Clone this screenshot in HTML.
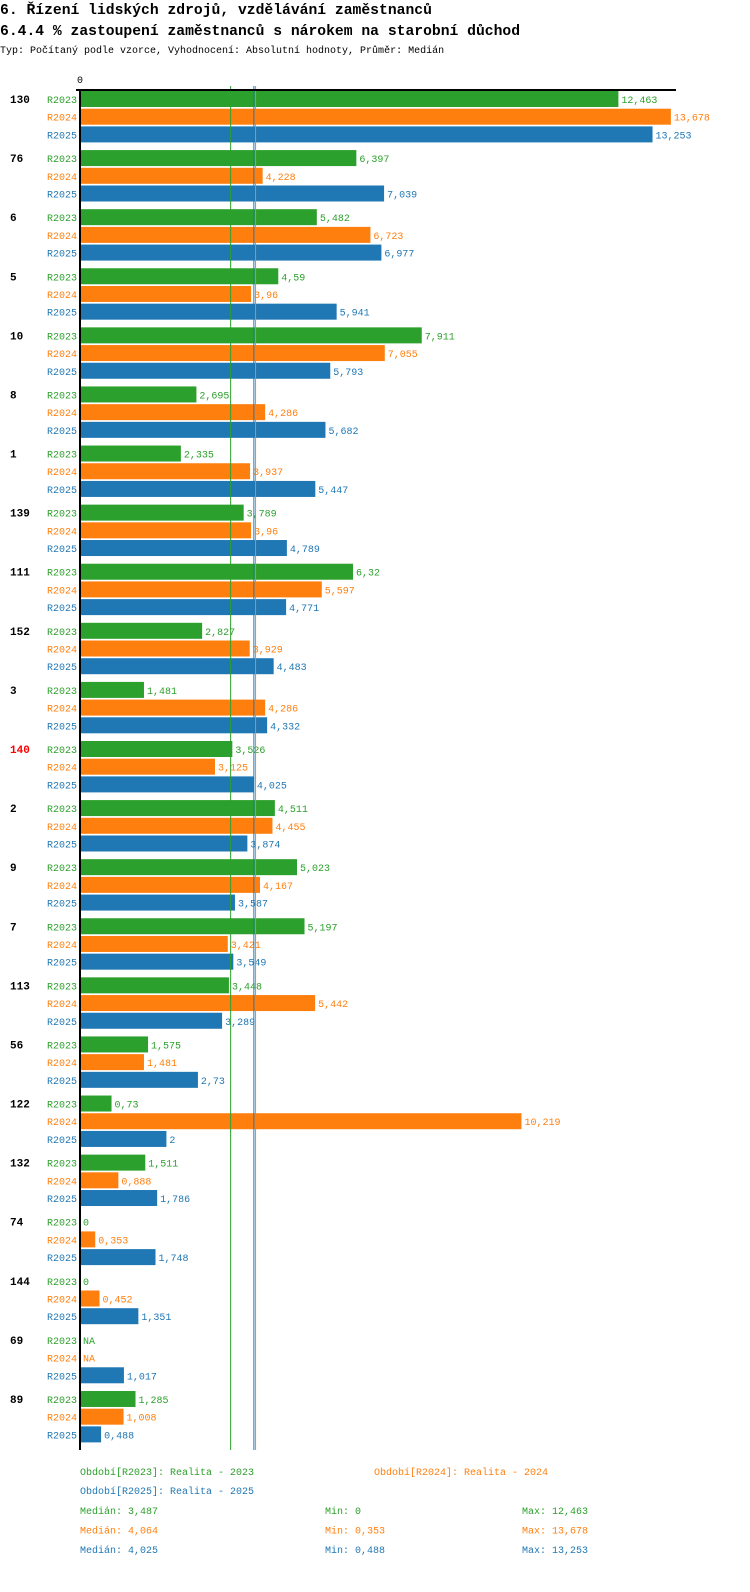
<!DOCTYPE html>
<html><head><meta charset="utf-8"><style>
body{margin:0;background:#fff;width:750px;height:1592px;overflow:hidden;font-family:"Liberation Mono",monospace}
</style></head><body>
<svg id="c" width="750" height="1592" style="position:absolute;left:0;top:0" font-family="Liberation Mono, monospace">
<text x="0" y="14" font-size="14.7" font-weight="bold">6. Řízení lidských zdrojů, vzdělávání zaměstnanců</text>
<text x="0" y="35" font-size="14.7" font-weight="bold">6.4.4 % zastoupení zaměstnanců s nárokem na starobní důchod</text>
<text x="0" y="53" font-size="10">Typ: Počítaný podle vzorce, Vyhodnocení: Absolutní hodnoty, Průměr: Medián</text>
</svg>
<script>
const groups=["130","76","6","5","10","8","1","139","111","152","3","140","2","9","7","113","56","122","132","74","144","69","89"];
const r2023=[12.463,6.397,5.482,4.59,7.911,2.695,2.335,3.789,6.32,2.827,1.481,3.526,4.511,5.023,5.197,3.448,1.575,0.73,1.511,0,0,null,1.285];
const r2024=[13.678,4.228,6.723,3.96,7.055,4.286,3.937,3.96,5.597,3.929,4.286,3.125,4.455,4.167,3.421,5.442,1.481,10.219,0.888,0.353,0.452,null,1.008];
const r2025=[13.253,7.039,6.977,5.941,5.793,5.682,5.447,4.789,4.771,4.483,4.332,4.025,3.874,3.587,3.549,3.289,2.73,2,1.786,1.748,1.351,1.017,0.488];
const seriesNames=["R2023","R2024","R2025"];
const medians=[3.487,4.064,4.025];
const mins=["0","0,353","0,488"];
const maxs=["12,463","13,678","13,253"];
const colors=["#2ca02c","#ff7f0e","#1f77b4"];
const svg=document.getElementById('c');
const NS="http://www.w3.org/2000/svg";
const x0=80,scale=43.2;
const X=v=>x0+v*scale;
const Y=(g,s)=>99+g*59.09+s*17.7;
function mk(t,a,txt){const e=document.createElementNS(NS,t);for(const k in a)e.setAttribute(k,a[k]);if(txt!==undefined)e.textContent=txt;svg.appendChild(e);return e;}
const fmt=v=>String(v).replace('.',',');
const data=[r2023,r2024,r2025];
groups.forEach((g,gi)=>{
  const gl=mk('text',{x:10,y:Y(gi,0)+4,'font-size':11,'font-weight':'bold',fill:g==="140"?"#ff0000":"#000"},g);
  
  
  data.forEach((arr,si)=>{
    const v=arr[gi],y=Y(gi,si);
    const sl=mk('text',{x:77,y:y+4,'font-size':10,'text-anchor':'end',fill:colors[si]},seriesNames[si]);
    
    
    if(v!==null){
      const r=mk('rect',{x:x0,y:y-8,width:Math.max(0,X(v)-x0),height:16,fill:colors[si]});
      
      
    }
    const vl=mk('text',{x:X(v||0)+3,y:y+4,'font-size':10,fill:colors[si]},v===null?"NA":fmt(v));
    
    
  });
});
medians.forEach((m,i)=>{
  const l=mk('line',{x1:X(m),x2:X(m),y1:86,y2:1450,stroke:colors[i],'stroke-width':1});
  
  
});
const ax=mk('line',{x1:x0,x2:x0,y1:89,y2:1450,stroke:'#000','stroke-width':2});


const tx=mk('line',{x1:76,x2:676,y1:90,y2:90,stroke:'#000','stroke-width':2});


const t0=mk('text',{x:x0,y:83,'font-size':10,'text-anchor':'middle'},"0");


const leg=[["Období[R2023]: Realita - 2023",80,1475,0],["Období[R2024]: Realita - 2024",374,1475,1],["Období[R2025]: Realita - 2025",80,1494,2]];
leg.forEach(l=>{const e=mk('text',{x:l[1],y:l[2],'font-size':10,fill:colors[l[3]]},l[0]);
  
  });
[0,1,2].forEach(i=>{
  const y=1514+i*19.5;
  const a=mk('text',{x:80,y:y,'font-size':10,fill:colors[i]},"Medián: "+fmt(medians[i]));
  
  
  const b=mk('text',{x:325,y:y,'font-size':10,fill:colors[i]},"Min: "+mins[i]);
  
  
  const c=mk('text',{x:522,y:y,'font-size':10,fill:colors[i]},"Max: "+maxs[i]);
  
  
});
</script>
</body></html>
